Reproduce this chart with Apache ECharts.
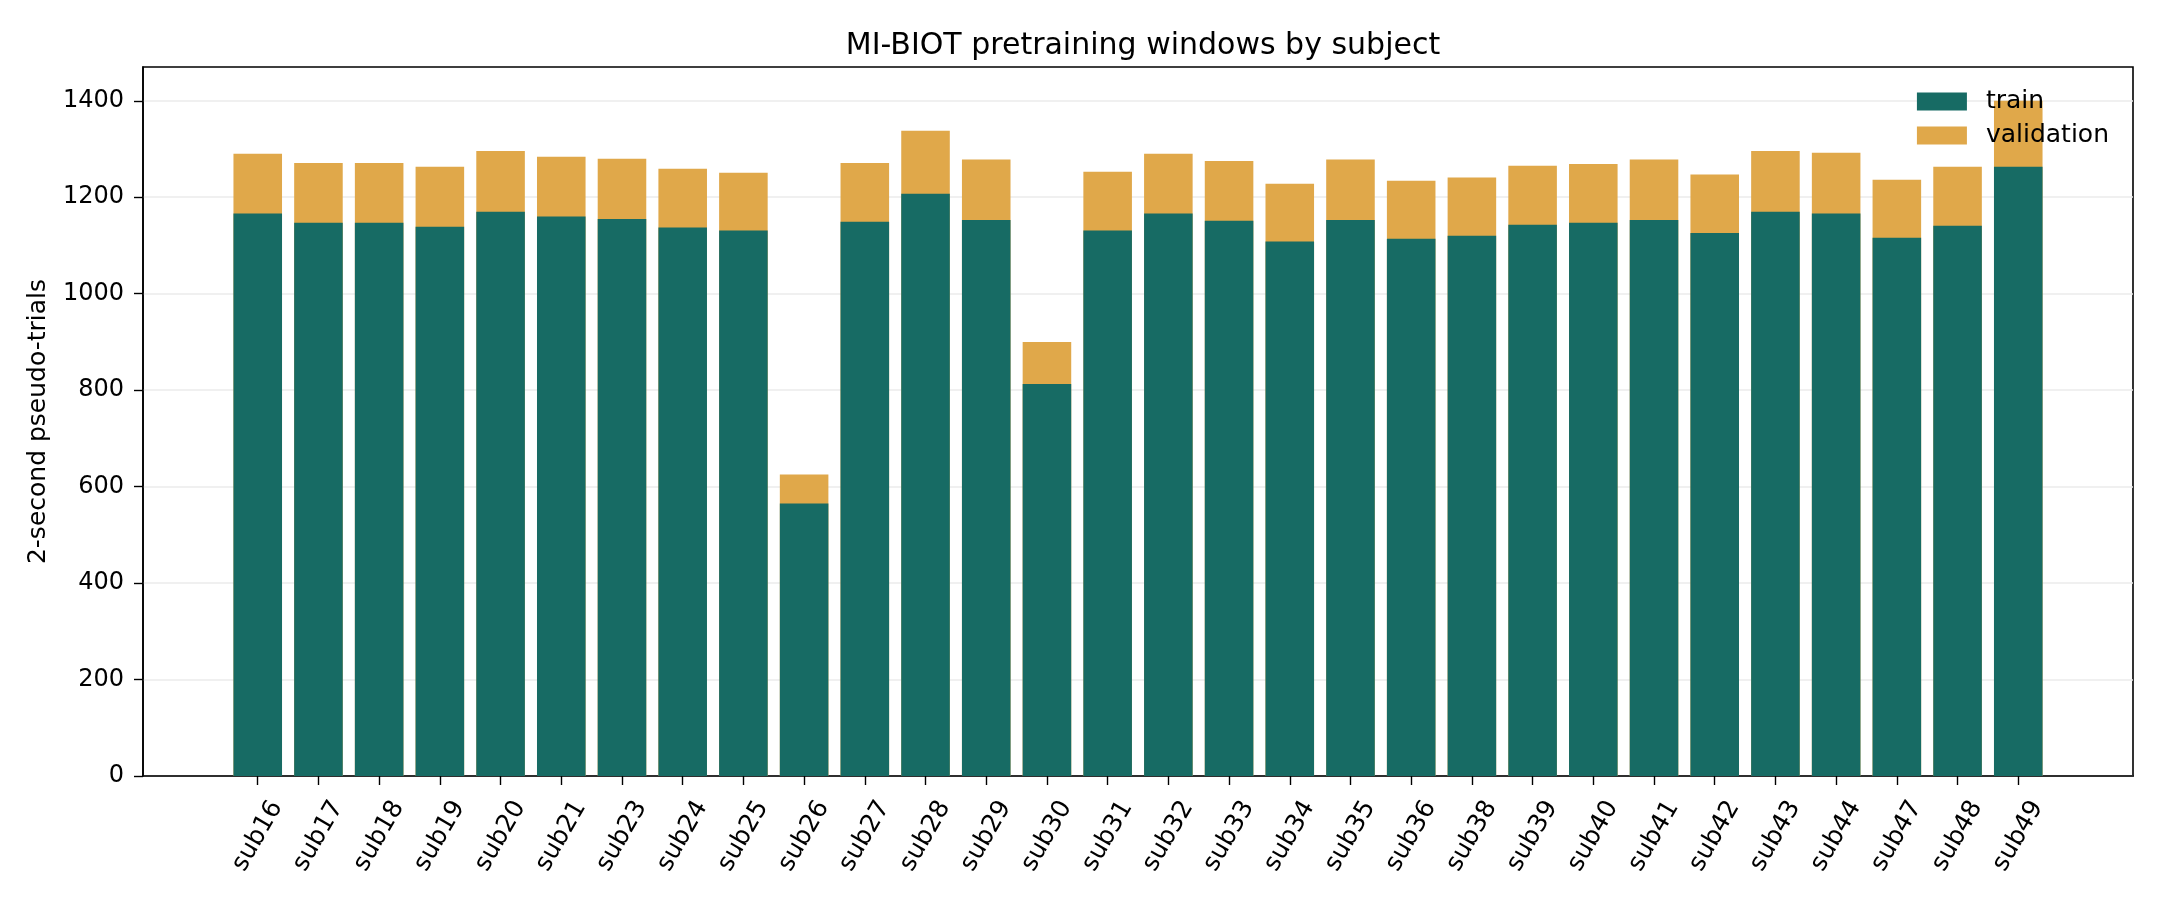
<!DOCTYPE html>
<html>
<head>
<meta charset="utf-8">
<title>MI-BIOT pretraining windows by subject</title>
<script src="https://cdn.jsdelivr.net/npm/echarts@6/dist/echarts.min.js"></script>
<style>
  html, body { margin: 0; padding: 0; background: #fff; }
  #chart { width: 2160px; height: 900px; }
</style>
</head>
<body>
<div id="chart"></div>
<script>
// subjects on the x axis
var subjects = ['sub16', 'sub17', 'sub18', 'sub19', 'sub20', 'sub21', 'sub23', 'sub24', 'sub25', 'sub26',
  'sub27', 'sub28', 'sub29', 'sub30', 'sub31', 'sub32', 'sub33', 'sub34', 'sub35', 'sub36',
  'sub38', 'sub39', 'sub40', 'sub41', 'sub42', 'sub43', 'sub44', 'sub47', 'sub48', 'sub49'];

// windows per subject
var trainValues = [1166, 1147, 1147, 1139, 1170, 1160, 1155, 1137, 1131, 565,
  1149, 1207, 1153, 813, 1131, 1166, 1151, 1108, 1153, 1114,
  1120, 1143, 1147, 1153, 1126, 1170, 1166, 1116, 1141, 1263];
var validationValues = [124, 124, 124, 124, 126, 124, 125, 122, 120, 60,
  122, 131, 125, 87, 122, 124, 124, 120, 125, 120,
  121, 122, 122, 125, 121, 126, 126, 120, 122, 137];

var yTicks = [0, 200, 400, 600, 800, 1000, 1200, 1400];

var FONT = 'DejaVu Sans';
var TRAIN_COLOR = '#176b64';
var VAL_COLOR = '#e0a84a';

var xIdx = subjects.map(function (s, i) { return i; });

// validation sits on top of train, so its bar runs from 0 up to the total
// and the train bar is drawn over it
var totals = trainValues.map(function (v, i) { return v + validationValues[i]; });

var chart = echarts.init(document.getElementById('chart'), null, { renderer: 'canvas' });

var option = {
  animation: false,
  backgroundColor: '#fff',
  textStyle: { fontFamily: FONT },
  title: {
    text: 'MI-BIOT pretraining windows by subject',
    left: 1138,
    textAlign: 'center',
    top: 26,
    textStyle: { fontFamily: FONT, fontSize: 30, fontWeight: 'normal', color: '#000' }
  },
  legend: {
    orient: 'vertical',
    right: 46,
    top: 84,
    itemWidth: 50,
    itemHeight: 18,
    itemGap: 9,
    icon: 'rect',
    textStyle: { fontFamily: FONT, fontSize: 25, color: '#000', padding: [0, 0, 0, 14] },
    data: ['train', 'validation']
  },
  grid: {
    left: 143,
    right: 27,
    top: 67,
    bottom: 124,
    show: true,
    borderColor: '#000',
    borderWidth: 1.6,
    backgroundColor: 'transparent'
  },
  xAxis: {
    type: 'value',
    min: -1.89,
    max: 30.89,
    splitLine: { show: false },
    axisLine: { show: true, onZero: false, lineStyle: { color: '#000', width: 1.6 } },
    axisTick: { show: true, length: 9, customValues: xIdx, lineStyle: { color: '#000', width: 1.4 } },
    axisLabel: {
      customValues: xIdx,
      rotate: 60,
      align: 'center',
      verticalAlign: 'middle',
      margin: 60,
      fontSize: 25,
      fontFamily: FONT,
      color: '#000',
      formatter: function (v) { return subjects[Math.round(v)]; }
    }
  },
  yAxis: {
    type: 'value',
    min: 0,
    max: 1470,
    name: '2-second pseudo-trials',
    nameLocation: 'middle',
    nameGap: 92,
    nameTextStyle: { fontFamily: FONT, fontSize: 25, color: '#000' },
    axisLine: { show: true, onZero: false, lineStyle: { color: '#000', width: 1.6 } },
    axisTick: { show: true, length: 9, customValues: yTicks, lineStyle: { color: '#000', width: 1.4 } },
    axisLabel: {
      customValues: yTicks,
      margin: 19,
      fontSize: 24,
      fontFamily: FONT,
      color: '#000',
      formatter: function (v) { return String(v); }
    },
    splitLine: { show: true, lineStyle: { color: '#ebebeb', width: 1.5 } }
  },
  series: [
    {
      name: 'validation',
      type: 'bar',
      barWidth: '80%',
      barGap: '-100%',
      z: 2,
      itemStyle: { color: VAL_COLOR },
      data: totals.map(function (v, i) { return [i, v]; })
    },
    {
      name: 'train',
      type: 'bar',
      barWidth: '80%',
      barGap: '-100%',
      z: 3,
      itemStyle: { color: TRAIN_COLOR },
      data: trainValues.map(function (v, i) { return [i, v]; })
    }
  ]
};

chart.setOption(option);
</script>
</body>
</html>
